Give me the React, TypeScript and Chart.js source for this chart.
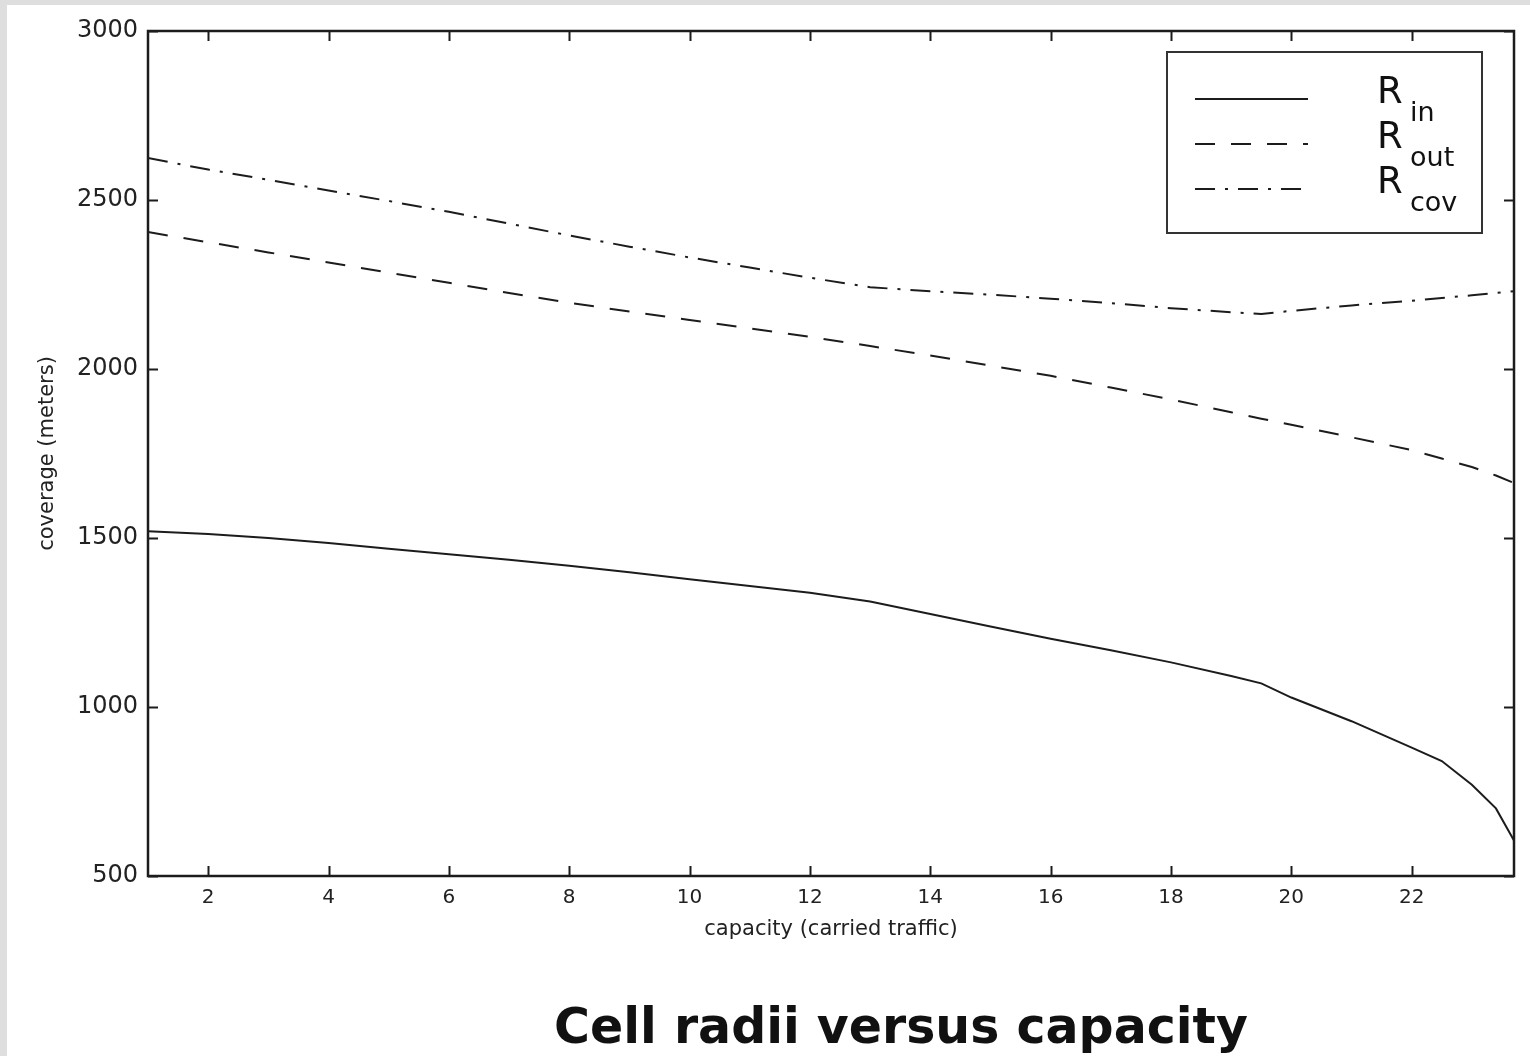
import { useEffect, useRef } from "react";
import { Chart, registerables } from "chart.js";

Chart.register(...registerables);

// Carried traffic (x) and the three cell radii in metres
const capacity = [1, 2, 3, 4, 5, 6, 7, 8, 9, 10, 11, 12, 13, 14, 15, 16, 17, 18, 19, 19.5, 20, 21, 22, 22.5, 23, 23.4, 23.7];
const rIn = [1520, 1512, 1500, 1485, 1468, 1452, 1436, 1418, 1399, 1378, 1358, 1338, 1312, 1275, 1238, 1202, 1168, 1132, 1092, 1070, 1028, 958, 880, 840, 770, 700, 605];
const rOut = [2405, 2375, 2345, 2315, 2285, 2255, 2225, 2196, 2170, 2145, 2120, 2095, 2068, 2040, 2010, 1980, 1945, 1910, 1872, 1853, 1835, 1798, 1760, 1735, 1710, 1685, 1663];
const rCov = [2624, 2590, 2560, 2528, 2497, 2465, 2430, 2395, 2362, 2330, 2300, 2270, 2242, 2230, 2220, 2208, 2195, 2180, 2168, 2163, 2172, 2188, 2202, 2210, 2218, 2225, 2230];

const xTickValues = [2, 4, 6, 8, 10, 12, 14, 16, 18, 20, 22];
const yTickValues = [500, 1000, 1500, 2000, 2500, 3000];

const seriesBase = "R";
const seriesSubs = ["in", "out", "cov"];
const seriesDashes = [[], [20, 16], [20, 10, 3, 10]];

const chartTitle = "Cell radii versus capacity";
const xAxisTitle = "capacity (carried traffic)";
const yAxisTitle = "coverage (meters)";

const INK = "#1c1c1c";
const FONT = '"DejaVu Sans", sans-serif';

// Frame with inward ticks on all four sides, the boxed legend and the caption
const decorations = {
  id: "decorations",
  afterDraw(chart: any) {
    const { ctx, chartArea: a, scales } = chart;
    ctx.save();
    ctx.strokeStyle = INK;
    ctx.lineWidth = 2;
    ctx.setLineDash([]);
    const tl = 10;
    for (const v of xTickValues) {
      const px = Math.round(scales.x.getPixelForValue(v)) + 0.5;
      ctx.beginPath();
      ctx.moveTo(px, a.bottom);
      ctx.lineTo(px, a.bottom - tl);
      ctx.moveTo(px, a.top);
      ctx.lineTo(px, a.top + tl);
      ctx.stroke();
    }
    for (const v of yTickValues) {
      const py = Math.round(scales.y.getPixelForValue(v)) + 0.5;
      ctx.beginPath();
      ctx.moveTo(a.left, py);
      ctx.lineTo(a.left + tl, py);
      ctx.moveTo(a.right, py);
      ctx.lineTo(a.right - tl, py);
      ctx.stroke();
    }
    ctx.lineWidth = 2.5;
    ctx.strokeRect(a.left, a.top, a.right - a.left, a.bottom - a.top);

    // legend box
    const bx = a.right - 347;
    const by = a.top + 21;
    const bw = 315;
    const bh = 181;
    ctx.fillStyle = "#ffffff";
    ctx.fillRect(bx, by, bw, bh);
    ctx.lineWidth = 2;
    ctx.strokeStyle = "#333";
    ctx.strokeRect(bx, by, bw, bh);

    seriesSubs.forEach((sub, i) => {
      const baseY = by + 51 + i * 45;
      ctx.strokeStyle = INK;
      ctx.lineWidth = 2;
      ctx.setLineDash(seriesDashes[i]);
      ctx.beginPath();
      ctx.moveTo(bx + 28, baseY - 4);
      ctx.lineTo(bx + 141, baseY - 4);
      ctx.stroke();
      ctx.setLineDash([]);
      ctx.fillStyle = "#111";
      ctx.textAlign = "left";
      ctx.textBaseline = "alphabetic";
      ctx.font = `37px ${FONT}`;
      ctx.fillText(seriesBase, bx + 210, baseY);
      ctx.font = `27px ${FONT}`;
      ctx.fillText(sub, bx + 243, baseY + 18);
    });

    // caption below the axes
    ctx.fillStyle = "#111";
    ctx.font = `bold 49px ${FONT}`;
    ctx.textAlign = "center";
    ctx.textBaseline = "alphabetic";
    ctx.fillText(chartTitle, 894, 1038);
    ctx.restore();
  },
};

export default function App() {
  const canvasRef = useRef<HTMLCanvasElement | null>(null);

  useEffect(() => {
    if (!canvasRef.current) return;
    const series = [rIn, rOut, rCov];
    const chart = new Chart(canvasRef.current, {
      type: "line",
      data: {
        datasets: series.map((vals, i) => ({
          label: seriesBase + "_" + seriesSubs[i],
          data: capacity.map((x, j) => ({ x, y: vals[j] })),
          borderColor: INK,
          borderWidth: 2,
          borderDash: seriesDashes[i],
          pointRadius: 0,
          tension: 0,
          fill: false,
        })),
      },
      options: {
        responsive: false,
        animation: false,
        devicePixelRatio: 1,
        layout: { padding: { left: 0, top: 26, right: 16, bottom: 100 } },
        plugins: {
          legend: { display: false },
          tooltip: { enabled: false },
        },
        scales: {
          x: {
            type: "linear",
            min: 1,
            max: 23.7,
            afterBuildTicks: (s: any) => {
              s.ticks = xTickValues.map((value) => ({ value }));
            },
            afterFit: (s: any) => {
              s.height = 80;
            },
            grid: { display: false, drawTicks: false },
            border: { display: false },
            ticks: {
              autoSkip: false,
              maxRotation: 0,
              padding: 10,
              color: "#222",
              font: { family: FONT, size: 20 },
              callback: (v: any) => String(v),
            },
            title: {
              display: true,
              text: xAxisTitle,
              color: "#222",
              font: { family: FONT, size: 21 },
              padding: { top: 0, bottom: 14 },
            },
          },
          y: {
            type: "linear",
            min: 500,
            max: 3000,
            afterBuildTicks: (s: any) => {
              s.ticks = yTickValues.map((value) => ({ value }));
            },
            afterFit: (s: any) => {
              s.width = 141;
            },
            grid: { display: false, drawTicks: false },
            border: { display: false },
            ticks: {
              autoSkip: false,
              padding: 10,
              color: "#222",
              font: { family: FONT, size: 24 },
              callback: (v: any) => String(v),
            },
            title: {
              display: true,
              text: yAxisTitle,
              color: "#222",
              font: { family: FONT, size: 21 },
              padding: { top: 28, bottom: 0 },
            },
          },
        },
      },
      plugins: [decorations],
    } as any);
    return () => chart.destroy();
  }, []);

  return (
    <div style={{ position: "absolute", left: 0, top: 0, width: 1530, height: 1056, background: "#dedede", overflow: "hidden" }}>
      <div style={{ position: "absolute", left: 7, top: 5, width: 1523, height: 1051, background: "#ffffff" }}>
        <canvas ref={canvasRef} width={1523} height={1051} style={{ display: "block", width: 1523, height: 1051 }} />
      </div>
    </div>
  );
}
